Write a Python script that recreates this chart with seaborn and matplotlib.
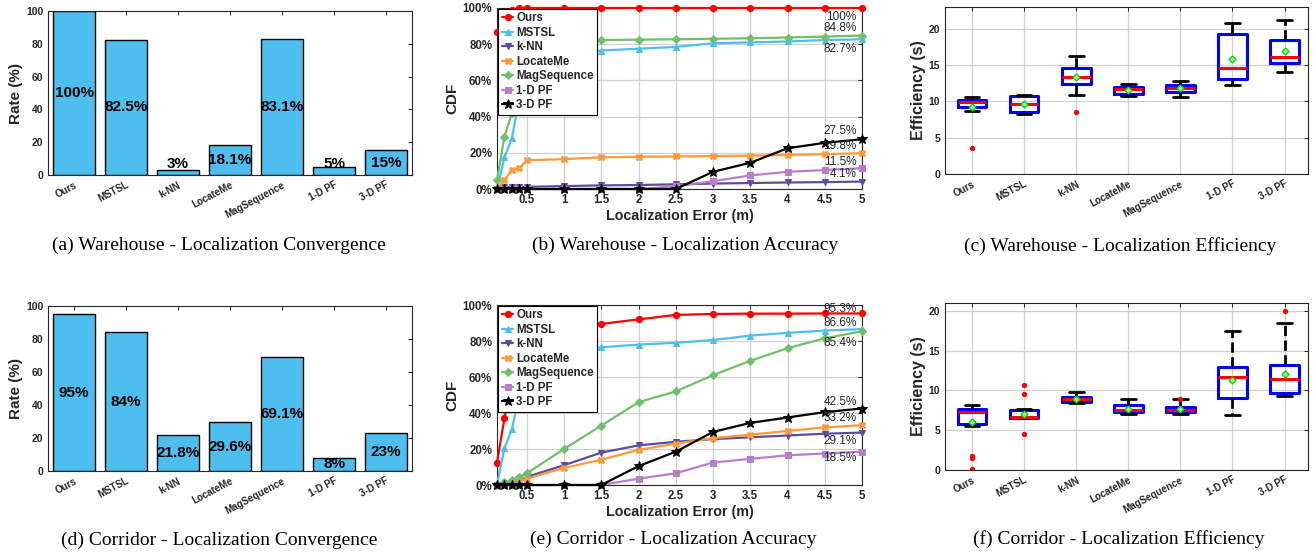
import matplotlib
matplotlib.use("Agg")
import matplotlib.pyplot as plt
import seaborn as sns
from matplotlib.ticker import PercentFormatter

# Methods compared in every panel
methods = ["Ours", "MSTSL", "k-NN", "LocateMe", "MagSequence", "1-D PF", "3-D PF"]

# Convergence rate (%)
wh_rate = [100, 82.5, 3, 18.1, 83.1, 5, 15]
co_rate = [95, 84, 21.8, 29.6, 69.1, 8, 23]

# CDF of localization error (%)
err = [0.1, 0.2, 0.3, 0.4, 0.5, 1, 1.5, 2, 2.5, 3, 3.5, 4, 4.5, 5]

wh_ours = [87, 96, 99, 100, 100, 100, 100, 100, 100, 100, 100, 100, 100, 100]
wh_mstsl = [0, 17.5, 28, 50, 70, 75, 76.5, 77.5, 78.5, 80.5, 81, 81.5, 82.3, 82.7]
wh_knn = [0, 1, 1, 1.1, 1.2, 1.6, 2, 2.2, 2.6, 3, 3.3, 3.6, 3.8, 4.1]
wh_locate = [0, 5, 10.5, 11.5, 15.8, 16.5, 17.5, 17.8, 18, 18.2, 18.4, 18.8, 19.2, 19.8]
wh_magseq = [5, 29, 42, 60, 75, 81, 82.3, 82.5, 82.7, 83, 83.3, 83.7, 84.2, 84.8]
wh_pf1 = [0, 0, 0, 0, 0, 0, 0, 0, 1.5, 4.3, 7.5, 9.5, 10.5, 11.5]
wh_pf3 = [0, 0, 0, 0, 0, 0, 0, 0, 0, 9.5, 14.5, 22.5, 25.5, 27.5]

co_ours = [12.5, 37, 60, 75, 83, 88, 89.5, 92, 94.5, 95, 95.2, 95.2, 95.3, 95.3]
co_mstsl = [0, 20.5, 31, 50, 65, 75, 76.5, 78, 79, 80.5, 83, 84.5, 85.8, 86.6]
co_knn = [0, 0.5, 1.5, 2.5, 4.5, 11, 18, 22, 24, 25.5, 26.5, 27.5, 28.5, 29.1]
co_locate = [0, 0.5, 1, 2, 3.5, 9.5, 14, 19.5, 23, 26, 28, 30, 32, 33.2]
co_magseq = [0, 1.5, 3, 4.5, 6.5, 20, 33, 46, 52, 61, 69, 76, 81.5, 85.4]
co_pf1 = [0, 0, 0, 0, 0, 0, 0, 3.5, 6.5, 12.5, 14.5, 16.5, 17.5, 18.5]
co_pf3 = [0, 0, 0, 0, 0, 0, 0, 10.5, 18.5, 29.5, 34.5, 37.5, 40.5, 42.5]

# Efficiency box statistics (s)
wh_lo = [8.74, 8.28, 10.94, 10.76, 10.67, 12.28, 14.11]
wh_q1 = [9.24, 8.5, 12.46, 11.08, 11.26, 13.15, 15.22]
wh_med = [9.93, 9.6, 13.38, 11.68, 11.82, 14.53, 16.18]
wh_q3 = [10.25, 10.8, 14.57, 12.05, 12.28, 19.31, 18.48]
wh_hi = [10.57, 10.94, 16.23, 12.46, 12.87, 20.78, 21.24]
wh_mean = [9.28, 9.7, 13.33, 11.63, 11.82, 15.77, 16.97]
wh_out = [[3.54], [], [8.5], [], [], [], []]

co_lo = [5.48, 6.49, 8.37, 7.07, 6.99, 6.9, 9.25]
co_q1 = [5.77, 6.49, 8.58, 7.24, 7.24, 9.0, 9.71]
co_med = [7.24, 6.69, 8.95, 7.53, 7.57, 11.67, 11.42]
co_q3 = [7.7, 7.49, 9.2, 8.12, 7.91, 12.89, 13.22]
co_hi = [8.12, 7.7, 9.75, 8.87, 8.87, 17.45, 18.45]
co_mean = [6.03, 7.03, 8.91, 7.7, 7.7, 11.3, 12.05]
co_out = [[1.8, 1.55, 0.15, 0.0], [10.75, 9.58, 4.52], [], [], [8.91], [], [20.0]]

colors = ["#FF0000", "#4DBEEE", "#5E4C9F", "#FF9A3C", "#70BF6A", "#B77FCB", "#000000"]
markers = ["o", "^", "v", "X", "D", "s", "*"]
bar_color = "#4DBEEE"
ink = "#262626"

sns.set_style("white")
plt.rcParams["font.family"] = ["Liberation Sans", "DejaVu Sans"]
plt.rcParams["font.weight"] = "bold"
plt.rcParams["axes.labelweight"] = "bold"

W, H = 1315, 555
fig = plt.figure(figsize=(W / 100, H / 100), dpi=100)


def add_axes(left, top, right, bottom):
    return fig.add_axes([left / W, 1 - bottom / H, (right - left) / W, (bottom - top) / H])


def style_axes(ax, size=7.5):
    for sp in ax.spines.values():
        sp.set_color(ink)
        sp.set_linewidth(0.8)
    ax.tick_params(direction="in", top=True, right=True, length=3, width=0.7,
                   labelsize=size, colors=ink)


def rotate_labels(ax):
    ax.set_xticks(range(len(methods)))
    ax.set_xticklabels(methods, rotation=28, ha="right", rotation_mode="anchor",
                       fontsize=7, fontweight="bold", color=ink)


def rate_panel(ax, rate, floor):
    sns.barplot(x=methods, y=rate, color=bar_color, saturation=1, width=0.8,
                edgecolor="black", linewidth=1, ax=ax)
    for i, v in enumerate(rate):
        ax.text(i, max(v / 2, floor), f"{v:g}%", ha="center", va="center",
                fontsize=11, fontweight="bold", color="black")
    ax.set_xlim(-0.5, 6.5)
    ax.set_ylim(0, 100)
    ax.set_yticks([0, 20, 40, 60, 80, 100])
    ax.set_ylabel("Rate (%)", fontsize=11, color=ink, labelpad=2)
    ax.set_xlabel("")
    style_axes(ax)
    rotate_labels(ax)


def cdf_panel(ax, series, offsets):
    for name, vals, c, m in zip(methods, series, colors, markers):
        ms = 7 if m == "*" else 4.5
        sns.lineplot(x=err, y=vals, ax=ax, color=c, marker=m, markersize=ms,
                     markeredgecolor=c, markerfacecolor=c, linewidth=1.6, label=name,
                     clip_on=False, zorder=3)
    for vals, off in zip(series, offsets):
        ax.text(4.93, vals[-1] + off, f"{vals[-1]:g}%", ha="right", va="center",
                fontsize=8.5, fontweight="normal", color=ink, zorder=4)
    ax.set_xlim(0.1, 5)
    ax.set_ylim(0, 100)
    ax.set_xticks([0.5, 1, 1.5, 2, 2.5, 3, 3.5, 4, 4.5, 5])
    ax.set_xticklabels(["0.5", "1", "1.5", "2", "2.5", "3", "3.5", "4", "4.5", "5"])
    ax.set_yticks([0, 20, 40, 60, 80, 100])
    ax.yaxis.set_major_formatter(PercentFormatter(decimals=0))
    ax.grid(True, color="#D0D0D0", linewidth=0.9)
    ax.set_axisbelow(True)
    ax.set_xlabel("Localization Error (m)", fontsize=10.3, color=ink, labelpad=2)
    ax.set_ylabel("CDF", fontsize=11, color=ink, labelpad=2)
    style_axes(ax, 8.3)
    leg = ax.legend(loc="upper left", bbox_to_anchor=(0.004, 0.996), borderaxespad=0,
                    frameon=True, fancybox=False, edgecolor="black", framealpha=1,
                    handlelength=1.0, handletextpad=0.25, labelspacing=0.22,
                    borderpad=0.3, prop={"weight": "bold", "size": 8.3})
    leg.get_frame().set_linewidth(0.8)
    leg.set_zorder(5)


def box_panel(ax, lo, q1, med, q3, hi, mean, out, ymax):
    stats = []
    for i, name in enumerate(methods):
        stats.append({"label": name, "whislo": lo[i], "q1": q1[i], "med": med[i],
                      "q3": q3[i], "whishi": hi[i], "mean": mean[i], "fliers": out[i]})
    ax.bxp(stats, positions=range(len(methods)), widths=0.55, capwidths=0.28,
           showmeans=True, patch_artist=False,
           boxprops={"color": "#0000FF", "linewidth": 2.2},
           medianprops={"color": "#FF0000", "linewidth": 2.2},
           whiskerprops={"color": "black", "linewidth": 2, "linestyle": "--"},
           capprops={"color": "black", "linewidth": 2},
           flierprops={"marker": "o", "markersize": 2.8, "markerfacecolor": "#FF0000",
                       "markeredgecolor": "#FF0000"},
           meanprops={"marker": "D", "markersize": 3.5, "markerfacecolor": "#A0FFA0",
                      "markeredgecolor": "#00DD00", "markeredgewidth": 1})
    ax.set_xlim(-0.52, 6.45)
    ax.set_ylim(0, ymax)
    ax.set_yticks([0, 5, 10, 15, 20])
    ax.grid(True, color="#D0D0D0", linewidth=0.9)
    ax.set_axisbelow(True)
    ax.set_ylabel("Efficiency (s)", fontsize=11.5, color=ink, labelpad=2)
    style_axes(ax)
    rotate_labels(ax)


# Top row: warehouse
ax_a = add_axes(48, 11, 412, 175)
rate_panel(ax_a, wh_rate, 7)
ax_b = add_axes(497, 8, 862, 189)
cdf_panel(ax_b, [wh_ours, wh_mstsl, wh_knn, wh_locate, wh_magseq, wh_pf1, wh_pf3],
          [-5, -5.5, 4, 3.7, 4, 3.5, 4.5])
ax_c = add_axes(945, 7, 1308, 174)
box_panel(ax_c, wh_lo, wh_q1, wh_med, wh_q3, wh_hi, wh_mean, wh_out, 23)

# Bottom row: corridor
ax_d = add_axes(48, 306, 412, 471)
rate_panel(ax_d, co_rate, 0)
ax_e = add_axes(497, 305, 862, 485)
cdf_panel(ax_e, [co_ours, co_mstsl, co_knn, co_locate, co_magseq, co_pf1, co_pf3],
          [2.5, 3.4, -4.5, 3.8, -6.4, -3.7, 3.5])
ax_f = add_axes(945, 303, 1308, 470)
box_panel(ax_f, co_lo, co_q1, co_med, co_q3, co_hi, co_mean, co_out, 21)

captions = [
    (219, 245, "(a) Warehouse - Localization Convergence"),
    (685, 245, "(b) Warehouse - Localization Accuracy"),
    (1120, 246, "(c) Warehouse - Localization Efficiency"),
    (219, 540, "(d) Corridor - Localization Convergence"),
    (673, 539, "(e) Corridor - Localization Accuracy"),
    (1119, 539, "(f) Corridor - Localization Efficiency"),
]
for cx, cy, txt in captions:
    fig.text(cx / W, 1 - cy / H, txt, ha="center", va="center", fontsize=14,
             fontweight="normal", family=["Liberation Serif", "DejaVu Serif"], color="black")

fig.savefig("out.png", dpi=100)
